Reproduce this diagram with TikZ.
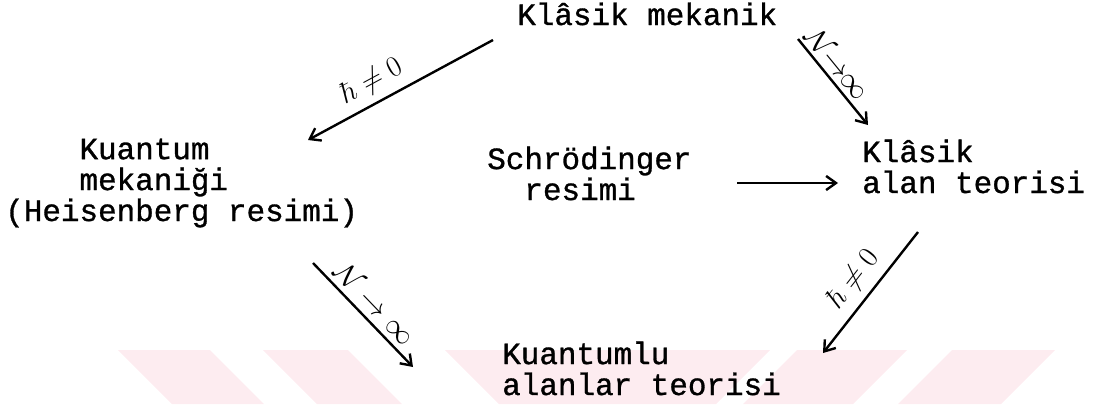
\documentclass[tikz,border=0pt]{standalone}
\usepackage{fontspec}
\usepackage{amsmath,amssymb}
\usepackage{tikz}
\usetikzlibrary{calc,arrows.meta}
\newfontfamily\daktilo[FakeBold=1]{Liberation Mono}
\definecolor{stamp}{RGB}{253,236,240}
\tikzset{
  concept/.style={
    anchor=base west,
    align=left,
    inner sep=0pt,
    font=\daktilo\fontsize{22}{22}\selectfont,
  },
  limitarrow/.style={
    line width=1.7pt,
    -{Straight Barb[length=7pt,width=10pt,line width=1.7pt]},
  },
  cond/.style={
    sloped,
    above,
    inner sep=5pt,
    font=\fontsize{20}{24}\selectfont,
  },
  stampband/.style={fill=stamp, draw=none},
}

\begin{document}
\begin{tikzpicture}[x=0.025cm, y=-0.025cm]
  \useasboundingbox (0,0) rectangle (1117,404);
  % faint stamp behind the lower row
  \fill[stampband] (118,350) -- (210,350) -- (264,404) -- (172,404) -- cycle;
  \fill[stampband] (263,350) -- (348,350) -- (402,404) -- (317,404) -- cycle;
  \fill[stampband] (445,350) -- (770,350) -- (716,404) -- (499,404) -- cycle;
  \fill[stampband] (797,350) -- (907,350) -- (853,404) -- (743,404) -- cycle;
  \fill[stampband] (952,350) -- (1055,350) -- (1001,404) -- (898,404) -- cycle;

  % base of a node is the baseline of its last line
  \node[concept] (km) at (517,25) {Klâsik mekanik};
  \node[concept] (qm) at (5,221)
    {\hphantom{xxxx}Kuantum\\\hphantom{xxxx}mekaniği\\(Heisenberg resimi)};
  \node[concept] (sr) at (487,200) {Schrödinger\\\hphantom{xx}resimi};
  \node[concept] (kat) at (862,193) {Klâsik\\alan teorisi};
  \node[concept] (qat) at (502,395) {Kuantumlu\\alanlar teorisi};

  % arrow ends
  \coordinate (km-l) at (493,40);
  \coordinate (qm-r) at (308,140);
  \coordinate (km-r) at (798,39);
  \coordinate (kat-t) at (868,125);
  \coordinate (qm-b) at (313,263);
  \coordinate (qat-l) at (413,367);
  \coordinate (kat-b) at (918,232);
  \coordinate (qat-r) at (823,353);
  \coordinate (sr-r) at (737,183);
  \coordinate (kat-l) at (838,183);

  \draw[limitarrow] (km-l) -- node[cond, pos=0.6] {$\hbar\neq0$} (qm-r);
  \draw[limitarrow] (km-r) -- node[cond, pos=0.4, inner sep=3pt]
    {$\mathcal{N}\!\!\to\!\!\infty$} (kat-t);
  \draw[limitarrow] (qm-b) -- node[cond, pos=0.5, inner sep=4pt]
    {$\mathcal{N}\to\infty$} (qat-l);
  \draw[limitarrow] (kat-b) -- node[cond, pos=0.5] {$\hbar\neq0$} (qat-r);
  \draw[limitarrow] (sr-r) -- (kat-l);
\end{tikzpicture}
\end{document}
